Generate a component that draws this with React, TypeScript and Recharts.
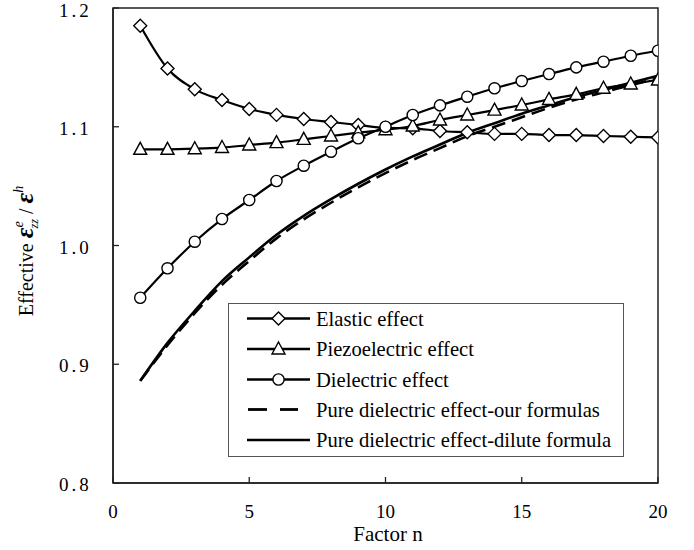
import React from 'react';
import { LineChart, Line, XAxis, YAxis, ReferenceArea, Legend } from 'recharts';

const nValues = [1, 2, 3, 4, 5, 6, 7, 8, 9, 10, 11, 12, 13, 14, 15, 16, 17, 18, 19, 20];
const elastic = [1.185, 1.149, 1.1315, 1.1225, 1.115, 1.110, 1.1065, 1.104, 1.1015, 1.099, 1.0987, 1.0964, 1.0953, 1.094, 1.094, 1.093, 1.093, 1.0922, 1.0916, 1.091];
const piezo = [1.081, 1.081, 1.0815, 1.0825, 1.0846, 1.0866, 1.0894, 1.0922, 1.095, 1.0975, 1.1006, 1.1057, 1.1099, 1.114, 1.1183, 1.123, 1.1273, 1.1324, 1.136, 1.1394];
const dielectric = [0.956, 0.9808, 1.0032, 1.0223, 1.0383, 1.0543, 1.0672, 1.079, 1.0903, 1.1, 1.1099, 1.118, 1.1253, 1.1324, 1.1385, 1.1444, 1.15, 1.1548, 1.1598, 1.164];
const pureOur = [0.886, 0.916, 0.943, 0.967, 0.987, 1.006, 1.022, 1.036, 1.049, 1.061, 1.072, 1.082, 1.092, 1.1, 1.108, 1.116, 1.123, 1.129, 1.135, 1.141];
const pureDilute = [0.886, 0.918, 0.945, 0.97, 0.99, 1.009, 1.025, 1.039, 1.052, 1.064, 1.075, 1.085, 1.095, 1.103, 1.111, 1.118, 1.125, 1.131, 1.137, 1.143];
const xTicks = [0, 5, 10, 15, 20];
const yTicks = [0.8, 0.9, 1.0, 1.1, 1.2];
const legendLabels = [
  'Elastic effect',
  'Piezoelectric effect',
  'Dielectric effect',
  'Pure dielectric effect-our formulas',
  'Pure dielectric effect-dilute formula',
];

const data = nValues.map((n, i) => ({
  n,
  elastic: elastic[i],
  piezo: piezo[i],
  dielectric: dielectric[i],
  pureOur: pureOur[i],
  pureDilute: pureDilute[i],
}));

const FONT = '"Liberation Serif", "Times New Roman", serif';

const Diamond = ({ cx, cy }: any) => {
  if (cx == null || cy == null) return null;
  const s = 6.5;
  return (
    <polygon
      points={`${cx},${cy - s} ${cx + s},${cy} ${cx},${cy + s} ${cx - s},${cy}`}
      fill="#fff"
      stroke="#000"
      strokeWidth={1.4}
    />
  );
};

const Triangle = ({ cx, cy }: any) => {
  if (cx == null || cy == null) return null;
  return (
    <polygon
      points={`${cx},${cy - 7} ${cx + 6.5},${cy + 5} ${cx - 6.5},${cy + 5}`}
      fill="#fff"
      stroke="#000"
      strokeWidth={1.4}
    />
  );
};

const Circle = ({ cx, cy }: any) => {
  if (cx == null || cy == null) return null;
  return <circle cx={cx} cy={cy} r={5.6} fill="#fff" stroke="#000" strokeWidth={1.4} />;
};

const XTick = ({ x, payload }: any) => (
  <text x={x} y={518} textAnchor="middle" fontSize={19} fill="#000" style={{ fontFamily: FONT }}>
    {payload.value}
  </text>
);

const YTick = ({ y, payload }: any) => {
  const s = Number(payload.value).toFixed(1);
  const [a, b] = s.split('.');
  return (
    <text x={59} y={y + 8} textAnchor="start" fontSize={19} fill="#000" style={{ fontFamily: FONT }}>
      {a}
      <tspan dx={3}>.</tspan>
      <tspan dx={3}>{b}</tspan>
    </text>
  );
};

const YLabel = () => (
  <text
    transform="translate(33,251) rotate(-90)"
    textAnchor="middle"
    fontSize={20}
    fill="#000"
    style={{ fontFamily: FONT }}
  >
    Effective{' '}
    <tspan fontStyle="italic" fontWeight="bold" fontSize={26}>ε</tspan>
    <tspan fontStyle="italic" fontSize={14} dy={-10}>e</tspan>
    <tspan fontStyle="italic" fontSize={12} dx={-7} dy={15}>zz</tspan>
    <tspan dy={-5}> / </tspan>
    <tspan fontStyle="italic" fontWeight="bold" fontSize={26}>ε</tspan>
    <tspan fontStyle="italic" fontSize={14} dy={-10}>h</tspan>
  </text>
);

const XLabel = () => (
  <text x={388} y={541} textAnchor="middle" fontSize={21} fill="#000" style={{ fontFamily: FONT }}>
    Factor n
  </text>
);

const LegendContent = () => {
  const rows = [15.5, 46, 76.5, 106.5, 137];
  const x1 = 19;
  const x2 = 82;
  const mx = 50.5;
  return (
    <svg width={396} height={154} style={{ display: 'block' }}>
      <rect x={0.5} y={0.5} width={395} height={153} fill="#fff" stroke="#555" strokeWidth={1} />
      {legendLabels.map((label, i) => {
        const y = rows[i];
        let sample: React.ReactNode = null;
        if (i === 3) {
          sample = (
            <g>
              <line x1={20} y1={y} x2={39} y2={y} stroke="#000" strokeWidth={2.8} />
              <line x1={52} y1={y} x2={70} y2={y} stroke="#000" strokeWidth={2.8} />
            </g>
          );
        } else {
          sample = (
            <g>
              <line x1={x1} y1={y} x2={x2} y2={y} stroke="#000" strokeWidth={2.6} />
              {i === 0 && <Diamond cx={mx} cy={y} />}
              {i === 1 && <Triangle cx={mx} cy={y} />}
              {i === 2 && <Circle cx={mx} cy={y} />}
            </g>
          );
        }
        return (
          <g key={label}>
            {sample}
            <text x={88} y={y + 7} fontSize={20.6} fill="#000" style={{ fontFamily: FONT }}>
              {label}
            </text>
          </g>
        );
      })}
    </svg>
  );
};

export default function App() {
  return (
    <div style={{ position: 'absolute', left: 0, top: 0, background: '#fff' }}>
      <LineChart
        width={694}
        height={550}
        data={data}
        margin={{ top: 8, right: 36, bottom: 0, left: 0 }}
      >
        <XAxis
          dataKey="n"
          type="number"
          domain={[0, 20]}
          ticks={xTicks}
          allowDataOverflow
          height={67}
          tickSize={-6}
          tickLine={{ stroke: '#222', strokeWidth: 1.3 }}
          axisLine={{ stroke: '#222', strokeWidth: 1.5 }}
          tick={<XTick />}
          label={<XLabel />}
        />
        <YAxis
          type="number"
          domain={[0.8, 1.2]}
          ticks={yTicks}
          allowDataOverflow
          width={113}
          tickSize={-6}
          tickLine={{ stroke: '#222', strokeWidth: 1.3 }}
          axisLine={{ stroke: '#222', strokeWidth: 1.5 }}
          tick={<YTick />}
          label={<YLabel />}
        />
        <ReferenceArea
          x1={0}
          x2={20}
          y1={0.8}
          y2={1.2}
          fill="none"
          fillOpacity={0}
          stroke="#222"
          strokeWidth={1.5}
          ifOverflow="visible"
        />
        <Line
          dataKey="pureOur"
          type="monotone"
          stroke="#000"
          strokeWidth={2.6}
          strokeDasharray="14 7"
          dot={false}
          activeDot={false}
          isAnimationActive={false}
        />
        <Line
          dataKey="pureDilute"
          type="monotone"
          stroke="#000"
          strokeWidth={2.6}
          dot={false}
          activeDot={false}
          isAnimationActive={false}
        />
        <Line
          dataKey="elastic"
          type="monotone"
          stroke="#000"
          strokeWidth={2.2}
          dot={(p: any) => <Diamond key={`d${p.index}`} cx={p.cx} cy={p.cy} />}
          activeDot={false}
          isAnimationActive={false}
        />
        <Line
          dataKey="piezo"
          type="monotone"
          stroke="#000"
          strokeWidth={2.2}
          dot={(p: any) => <Triangle key={`t${p.index}`} cx={p.cx} cy={p.cy} />}
          activeDot={false}
          isAnimationActive={false}
        />
        <Line
          dataKey="dielectric"
          type="monotone"
          stroke="#000"
          strokeWidth={2.2}
          dot={(p: any) => <Circle key={`c${p.index}`} cx={p.cx} cy={p.cy} />}
          activeDot={false}
          isAnimationActive={false}
        />
        <Legend
          layout="vertical"
          align="center"
          verticalAlign="middle"
          content={<LegendContent />}
          wrapperStyle={{ position: 'absolute', left: 228, top: 303, width: 396, height: 154 }}
        />
      </LineChart>
    </div>
  );
}
